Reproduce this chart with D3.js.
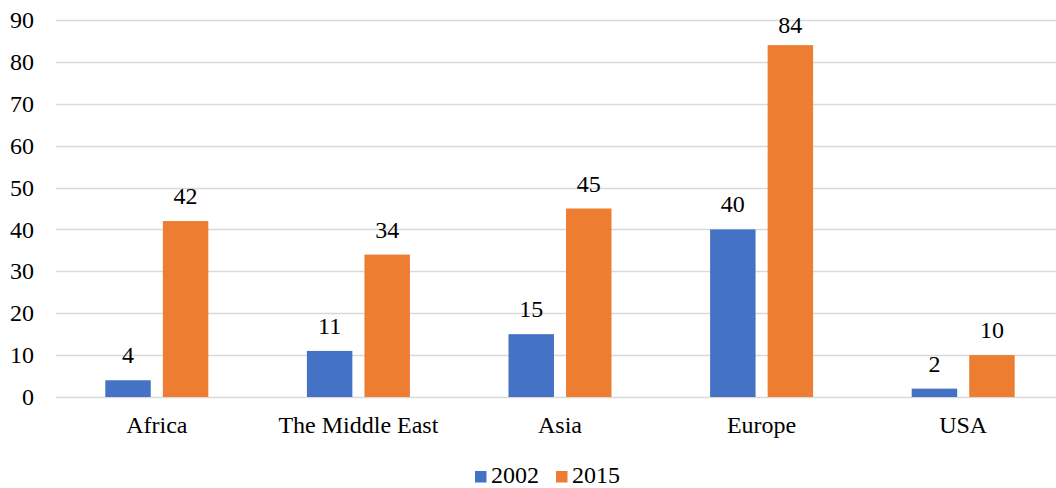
<!DOCTYPE html>
<html>
<head>
<meta charset="utf-8">
<script src="https://cdn.jsdelivr.net/npm/d3@7"></script>
<style>
  body { margin: 0; background: #fff; }
  svg text { font-family: "Liberation Serif", "Times New Roman", Times, serif; fill: #000; }
</style>
</head>
<body>
<script>
  const regions = ['Africa', 'The Middle East', 'Asia', 'Europe', 'USA'];
  const years = ['2002', '2015'];
  const values2002 = [4, 11, 15, 40, 2];
  const values2015 = [42, 34, 45, 84, 10];
  const yTicks = [0, 10, 20, 30, 40, 50, 60, 70, 80, 90];
  const colors = ['#4472C4', '#ED7D31'];

  const W = 1056, H = 488;
  const margin = { top: 20, right: -8, bottom: 91, left: 56 };
  const width = W - margin.left - margin.right;
  const height = H - margin.top - margin.bottom;
  const fontSize = '24px';

  const svg = d3.select('body').append('svg')
    .attr('width', W)
    .attr('height', H)
    .attr('font-family', '"Liberation Serif", "Times New Roman", serif');

  const g = svg.append('g')
    .attr('transform', `translate(${margin.left},${margin.top})`);

  const x = d3.scaleBand()
    .domain(regions)
    .range([0, width]);

  // two bars per category, 103px wide in total
  const x1 = d3.scaleBand()
    .domain(years)
    .range([0, 103])
    .paddingInner(0.21);

  const y = d3.scaleLinear()
    .domain([0, 90])
    .range([height, 0]);

  // gridlines
  g.append('g')
    .selectAll('line')
    .data(yTicks)
    .enter().append('line')
      .attr('x1', 0)
      .attr('x2', width)
      .attr('y1', d => Math.round(y(d)) + 0.5)
      .attr('y2', d => Math.round(y(d)) + 0.5)
      .attr('stroke', '#d9d9d9')
      .attr('stroke-width', 1.3);

  // y labels
  g.append('g')
    .selectAll('text')
    .data(yTicks)
    .enter().append('text')
      .attr('x', -22)
      .attr('y', d => y(d))
      .attr('dy', '0.34em')
      .attr('text-anchor', 'end')
      .attr('font-size', fontSize)
      .text(d => d);

  const data = regions.map((r, i) => ({ region: r, vals: [values2002[i], values2015[i]] }));

  const groups = g.selectAll('.grp')
    .data(data)
    .enter().append('g')
      .attr('class', 'grp')
      .attr('transform', d => `translate(${x(d.region) + x.bandwidth() / 2 - 51.5},0)`);

  groups.selectAll('rect')
    .data(d => d.vals.map((v, j) => ({ year: years[j], value: v, j })))
    .enter().append('rect')
      .attr('x', d => x1(d.year))
      .attr('width', x1.bandwidth())
      .attr('y', d => y(d.value))
      .attr('height', d => height - y(d.value))
      .attr('fill', d => colors[d.j]);

  // value labels (kept inside the plot area like Excel does)
  groups.selectAll('text')
    .data(d => d.vals.map((v, j) => ({ year: years[j], value: v, j })))
    .enter().append('text')
      .attr('x', d => x1(d.year) + x1.bandwidth() / 2)
      .attr('y', d => Math.max(y(d.value) - 17, y(90) + 13))
      .attr('text-anchor', 'middle')
      .attr('font-size', fontSize)
      .text(d => d.value);

  // category labels
  g.append('g')
    .selectAll('text')
    .data(regions)
    .enter().append('text')
      .attr('x', d => x(d) + x.bandwidth() / 2)
      .attr('y', height + 36)
      .attr('text-anchor', 'middle')
      .attr('font-size', fontSize)
      .text(d => d);

  // legend
  const legend = svg.append('g');
  const legendX = [475, 556];
  years.forEach((yr, i) => {
    legend.append('rect')
      .attr('x', legendX[i])
      .attr('y', 471)
      .attr('width', 11.5)
      .attr('height', 11.5)
      .attr('fill', colors[i]);
    legend.append('text')
      .attr('x', legendX[i] + 16)
      .attr('y', 483)
      .attr('font-size', fontSize)
      .text(yr);
  });
</script>
</body>
</html>
